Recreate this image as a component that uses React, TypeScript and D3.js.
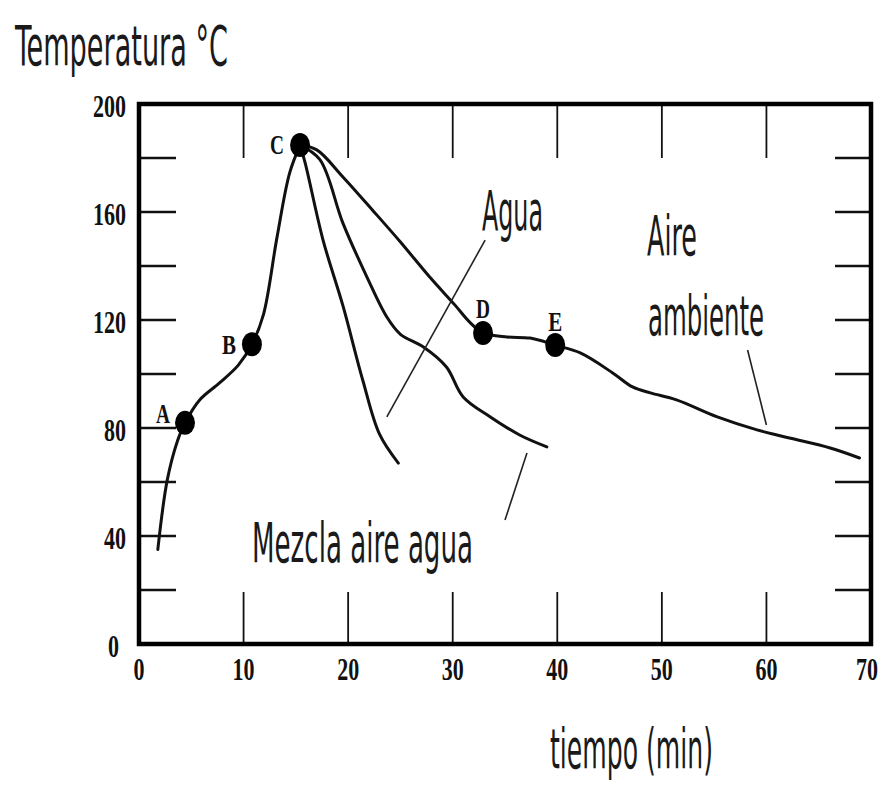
import React from "react";
import * as d3 from "d3";

// ---------- data ----------
const xTicks = [0, 10, 20, 30, 40, 50, 60, 70];
const yTickLabels = [0, 40, 80, 120, 160, 200];
const yMinorTicks = [20, 40, 60, 80, 100, 120, 140, 160, 180];
const xInnerTicks = [10, 20, 30, 40, 50, 60];

// heating phase, start -> C  [tiempo (min), temperatura °C]
const heating: [number, number][] = [
  [1.8, 35], [2.7, 60.7], [3.7, 75.5], [4.4, 81.9], [5.8, 90.4], [7.7, 96.7],
  [9.5, 103.3], [10.8, 111], [11.9, 122], [13.2, 150.7], [14.4, 174.4], [15.4, 184.8],
];
// cooling with water
const agua: [number, number][] = [
  [15.4, 184.8], [15.9, 178], [17.6, 149.6], [19.5, 125.3], [21.4, 97.7], [23.0, 77.7], [24.8, 67.0],
];
// cooling with air-water mixture
const mezcla: [number, number][] = [
  [15.4, 184.8], [17.3, 179.4], [19.5, 155.9], [21.8, 135.9], [23.7, 121.1], [25.0, 114.7],
  [27.2, 110], [29.4, 102.6], [31.0, 91.5], [33.6, 84.1], [36.4, 77.4], [39.0, 73.0],
];
// cooling in ambient air
const aire: [number, number][] = [
  [15.4, 184.8], [17.0, 183.0], [19.5, 173.0], [22.4, 160.4], [25.0, 148.9], [27.8, 135.9],
  [30.2, 125.6], [31.6, 119.3], [32.9, 115.2], [35.2, 113.7], [37.4, 113.3], [39.8, 110.7],
  [42.2, 107.8], [45.3, 100.4], [47.2, 95.2], [48.9, 93.0], [51.4, 90.4], [55.3, 84.1],
  [59.1, 79.3], [62.2, 76.3], [66.1, 72.6], [68.9, 68.9],
];
const pointNames = ["A", "B", "C", "D", "E"];
const pointTimes = [4.4, 10.8, 15.4, 32.9, 39.8];
const pointTemps = [81.9, 111, 184.8, 115.2, 110.7];

// leader lines for the annotations
const leaderAgua: [number, number][] = [[33.1, 149.6], [23.7, 84.1]];
const leaderMezcla: [number, number][] = [[37.1, 70.7], [35.0, 45.9]];
const leaderAire: [number, number][] = [[58.2, 108.9], [60.0, 81.1]];

// ---------- layout ----------
const W = 880, H = 785;
const X0 = 139, X1 = 871, Y0 = 644, Y1 = 104;

const labelOffsets: Record<string, [number, number]> = {
  A: [-22, -8], B: [-23, 2], C: [-23, 1], D: [0, -23], E: [0, -22],
};

const condensed = "'Liberation Sans Narrow', 'DejaVu Sans Condensed', 'Liberation Sans', sans-serif";
const serif = "'Liberation Serif', 'Times New Roman', serif";

export default function App() {
  const x = d3.scaleLinear().domain([0, 70]).range([X0, X1]);
  const y = d3.scaleLinear().domain([0, 200]).range([Y0, Y1]);
  const line = d3
    .line<[number, number]>()
    .x((d) => x(d[0]))
    .y((d) => y(d[1]))
    .curve(d3.curveCatmullRom.alpha(0.5));
  const straight = d3
    .line<[number, number]>()
    .x((d) => x(d[0]))
    .y((d) => y(d[1]));

  const curveStyle = { fill: "none", stroke: "#111", strokeWidth: 3, strokeLinejoin: "round" as const, strokeLinecap: "round" as const };
  const leaderStyle = { fill: "none", stroke: "#222", strokeWidth: 1.6 };

  const annot = (txt: string, x0: number, base: number, len: number, size = 56) => (
    <text
      x={x0}
      y={base}
      fontFamily={condensed}
      fontSize={size}
      textLength={len}
      lengthAdjust="spacingAndGlyphs"
      fill="#1a1a1a"
    >
      {txt}
    </text>
  );

  return (
    <svg
      width={W}
      height={H}
      viewBox={`0 0 ${W} ${H}`}
      style={{ position: "absolute", left: 0, top: 0, background: "#fff", display: "block" }}
    >
      <rect x={0} y={0} width={W} height={H} fill="#fff" />

      {/* inner ticks */}
      {yMinorTicks.map((v) => (
        <g key={"yt" + v}>
          <line x1={X0} x2={X0 + 37} y1={y(v)} y2={y(v)} stroke="#111" strokeWidth={2.6} />
          <line x1={X1 - 36} x2={X1} y1={y(v)} y2={y(v)} stroke="#111" strokeWidth={2.6} />
        </g>
      ))}
      {xInnerTicks.map((v) => (
        <g key={"xt" + v}>
          <line x1={x(v)} x2={x(v)} y1={Y0} y2={Y0 - 52} stroke="#111" strokeWidth={1.8} />
          <line x1={x(v)} x2={x(v)} y1={Y1} y2={Y1 + 54} stroke="#111" strokeWidth={1.8} />
        </g>
      ))}

      {/* frame */}
      <rect x={X0} y={Y1} width={X1 - X0} height={Y0 - Y1} fill="none" stroke="#000" strokeWidth={4.5} />

      {/* tick labels */}
      {yTickLabels.map((v) => (
        <text
          key={"yl" + v}
          x={v === 0 ? 119 : 126}
          y={y(v) + 13}
          textAnchor="end"
          fontFamily={serif}
          fontWeight="bold"
          fontSize={31}
          textLength={String(v).length * 11}
          lengthAdjust="spacingAndGlyphs"
          fill="#111"
        >
          {v}
        </text>
      ))}
      {xTicks.map((v) => (
        <text
          key={"xl" + v}
          x={Math.min(x(v), W - 13)}
          y={680}
          textAnchor="middle"
          fontFamily={serif}
          fontWeight="bold"
          fontSize={31}
          textLength={String(v).length * 11}
          lengthAdjust="spacingAndGlyphs"
          fill="#111"
        >
          {v}
        </text>
      ))}

      {/* curves */}
      <path d={line(heating) || ""} {...curveStyle} />
      <path d={line(agua) || ""} {...curveStyle} />
      <path d={line(mezcla) || ""} {...curveStyle} />
      <path d={line(aire) || ""} {...curveStyle} />

      {/* leader lines */}
      <path d={straight(leaderAgua) || ""} {...leaderStyle} />
      <path d={straight(leaderMezcla) || ""} {...leaderStyle} />
      <path d={straight(leaderAire) || ""} {...leaderStyle} />

      {/* points */}
      {pointNames.map((n, i) => {
        const cx = x(pointTimes[i]);
        const cy = y(pointTemps[i]);
        const [dx, dy] = labelOffsets[n];
        return (
          <g key={n}>
            <ellipse cx={cx} cy={cy} rx={10} ry={12} fill="#000" />
            <text
              x={cx + dx}
              y={cy + dy + 8}
              textAnchor="middle"
              fontFamily={serif}
              fontWeight="bold"
              fontSize={28}
              textLength={14}
              lengthAdjust="spacingAndGlyphs"
              fill="#111"
            >
              {n}
            </text>
          </g>
        );
      })}

      {/* annotations */}
      {annot("Temperatura °C", 15, 65, 213)}
      {annot("Agua", 482, 230, 61)}
      {annot("Aire", 647, 255, 50)}
      {annot("ambiente", 648, 335, 116)}
      {annot("Mezcla aire agua", 252, 562, 221)}
      {annot("tiempo (min)", 550, 768, 163)}
    </svg>
  );
}
